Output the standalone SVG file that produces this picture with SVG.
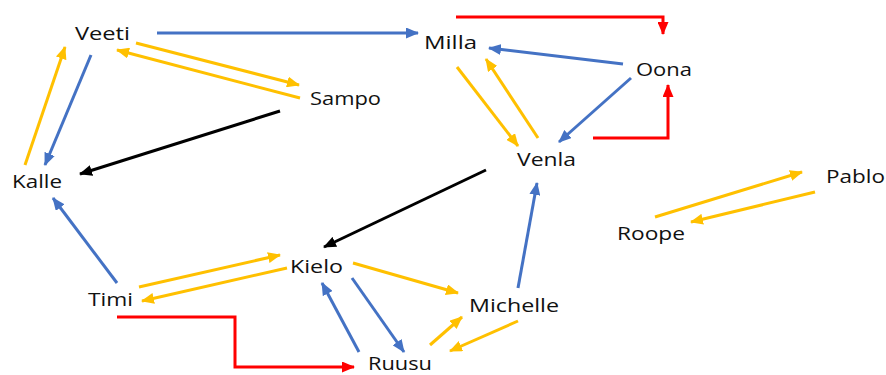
<svg xmlns="http://www.w3.org/2000/svg" width="886" height="375" viewBox="0 0 886 375">
<style>
.lbl{font-family:"Open Sans","DejaVu Sans",sans-serif;font-size:18px;fill:#111}
.c{fill:none;stroke-width:3}
.b{stroke:#4472C4;marker-end:url(#mb)}
.y{stroke:#FFC000;marker-end:url(#my)}
.r{stroke:#FF0000;marker-end:url(#mr)}
.k{stroke:#000;marker-end:url(#mk)}
</style>
<defs>
<marker id="mb" markerUnits="userSpaceOnUse" markerWidth="13" markerHeight="11" refX="12" refY="5.5" orient="auto"><path d="M0,0L13,5.5L0,11z" fill="#4472C4"/></marker>
<marker id="my" markerUnits="userSpaceOnUse" markerWidth="13" markerHeight="11" refX="12" refY="5.5" orient="auto"><path d="M0,0L13,5.5L0,11z" fill="#FFC000"/></marker>
<marker id="mr" markerUnits="userSpaceOnUse" markerWidth="13" markerHeight="11" refX="12" refY="5.5" orient="auto"><path d="M0,0L13,5.5L0,11z" fill="#FF0000"/></marker>
<marker id="mk" markerUnits="userSpaceOnUse" markerWidth="13" markerHeight="11" refX="12" refY="5.5" orient="auto"><path d="M0,0L13,5.5L0,11z" fill="#000"/></marker>
</defs>
<rect width="886" height="375" fill="#fff"/>
<g id="connectors">
<path class="c b" d="M157,33L418,33"/>
<path class="c y" d="M136,43L299,85"/>
<path class="c y" d="M300,98L117,50"/>
<path class="c k" d="M280,111L80,174"/>
<path class="c b" d="M91,55L45,165"/>
<path class="c y" d="M25,165L65,47"/>
<path class="c r" d="M456,17L663,17L663,34"/>
<path class="c b" d="M623,64L489,48"/>
<path class="c b" d="M631,78L559,142"/>
<path class="c r" d="M593,138L668,138L668,85"/>
<path class="c y" d="M457,67L518,146"/>
<path class="c y" d="M538,138L486,59"/>
<path class="c k" d="M486,170L324,247"/>
<path class="c b" d="M518,288L537,183"/>
<path class="c y" d="M353,263L458,293"/>
<path class="c b" d="M352,278L404,352"/>
<path class="c b" d="M359,352L322,283"/>
<path class="c y" d="M430,345L462,317"/>
<path class="c y" d="M518,321L450,351"/>
<path class="c r" d="M117,317L235,317L235,367L354,367"/>
<path class="c b" d="M117,283L53,198"/>
<path class="c y" d="M139,287L280,255"/>
<path class="c y" d="M287,268L142,301"/>
<path class="c y" d="M655,217L802,172"/>
<path class="c y" d="M815,192L691,222"/>
</g>
<g id="Veeti"><text class="lbl" x="75" y="40" textLength="55" lengthAdjust="spacingAndGlyphs">Veeti</text></g>
<g id="Kalle"><text class="lbl" x="12" y="188" textLength="50" lengthAdjust="spacingAndGlyphs">Kalle</text></g>
<g id="Sampo"><text class="lbl" x="310" y="105" textLength="71" lengthAdjust="spacingAndGlyphs">Sampo</text></g>
<g id="Milla"><text class="lbl" x="424" y="49" textLength="53" lengthAdjust="spacingAndGlyphs">Milla</text></g>
<g id="Oona"><text class="lbl" x="636" y="76" textLength="56" lengthAdjust="spacingAndGlyphs">Oona</text></g>
<g id="Venla"><text class="lbl" x="517" y="166" textLength="59" lengthAdjust="spacingAndGlyphs">Venla</text></g>
<g id="Pablo"><text class="lbl" x="826" y="183" textLength="59" lengthAdjust="spacingAndGlyphs">Pablo</text></g>
<g id="Roope"><text class="lbl" x="617" y="240" textLength="68" lengthAdjust="spacingAndGlyphs">Roope</text></g>
<g id="Kielo"><text class="lbl" x="290" y="273" textLength="53" lengthAdjust="spacingAndGlyphs">Kielo</text></g>
<g id="Timi"><text class="lbl" x="88" y="306" textLength="45" lengthAdjust="spacingAndGlyphs">Timi</text></g>
<g id="Michelle"><text class="lbl" x="469" y="312" textLength="90" lengthAdjust="spacingAndGlyphs">Michelle</text></g>
<g id="Ruusu"><text class="lbl" x="368" y="370" textLength="64" lengthAdjust="spacingAndGlyphs">Ruusu</text></g>
</svg>
